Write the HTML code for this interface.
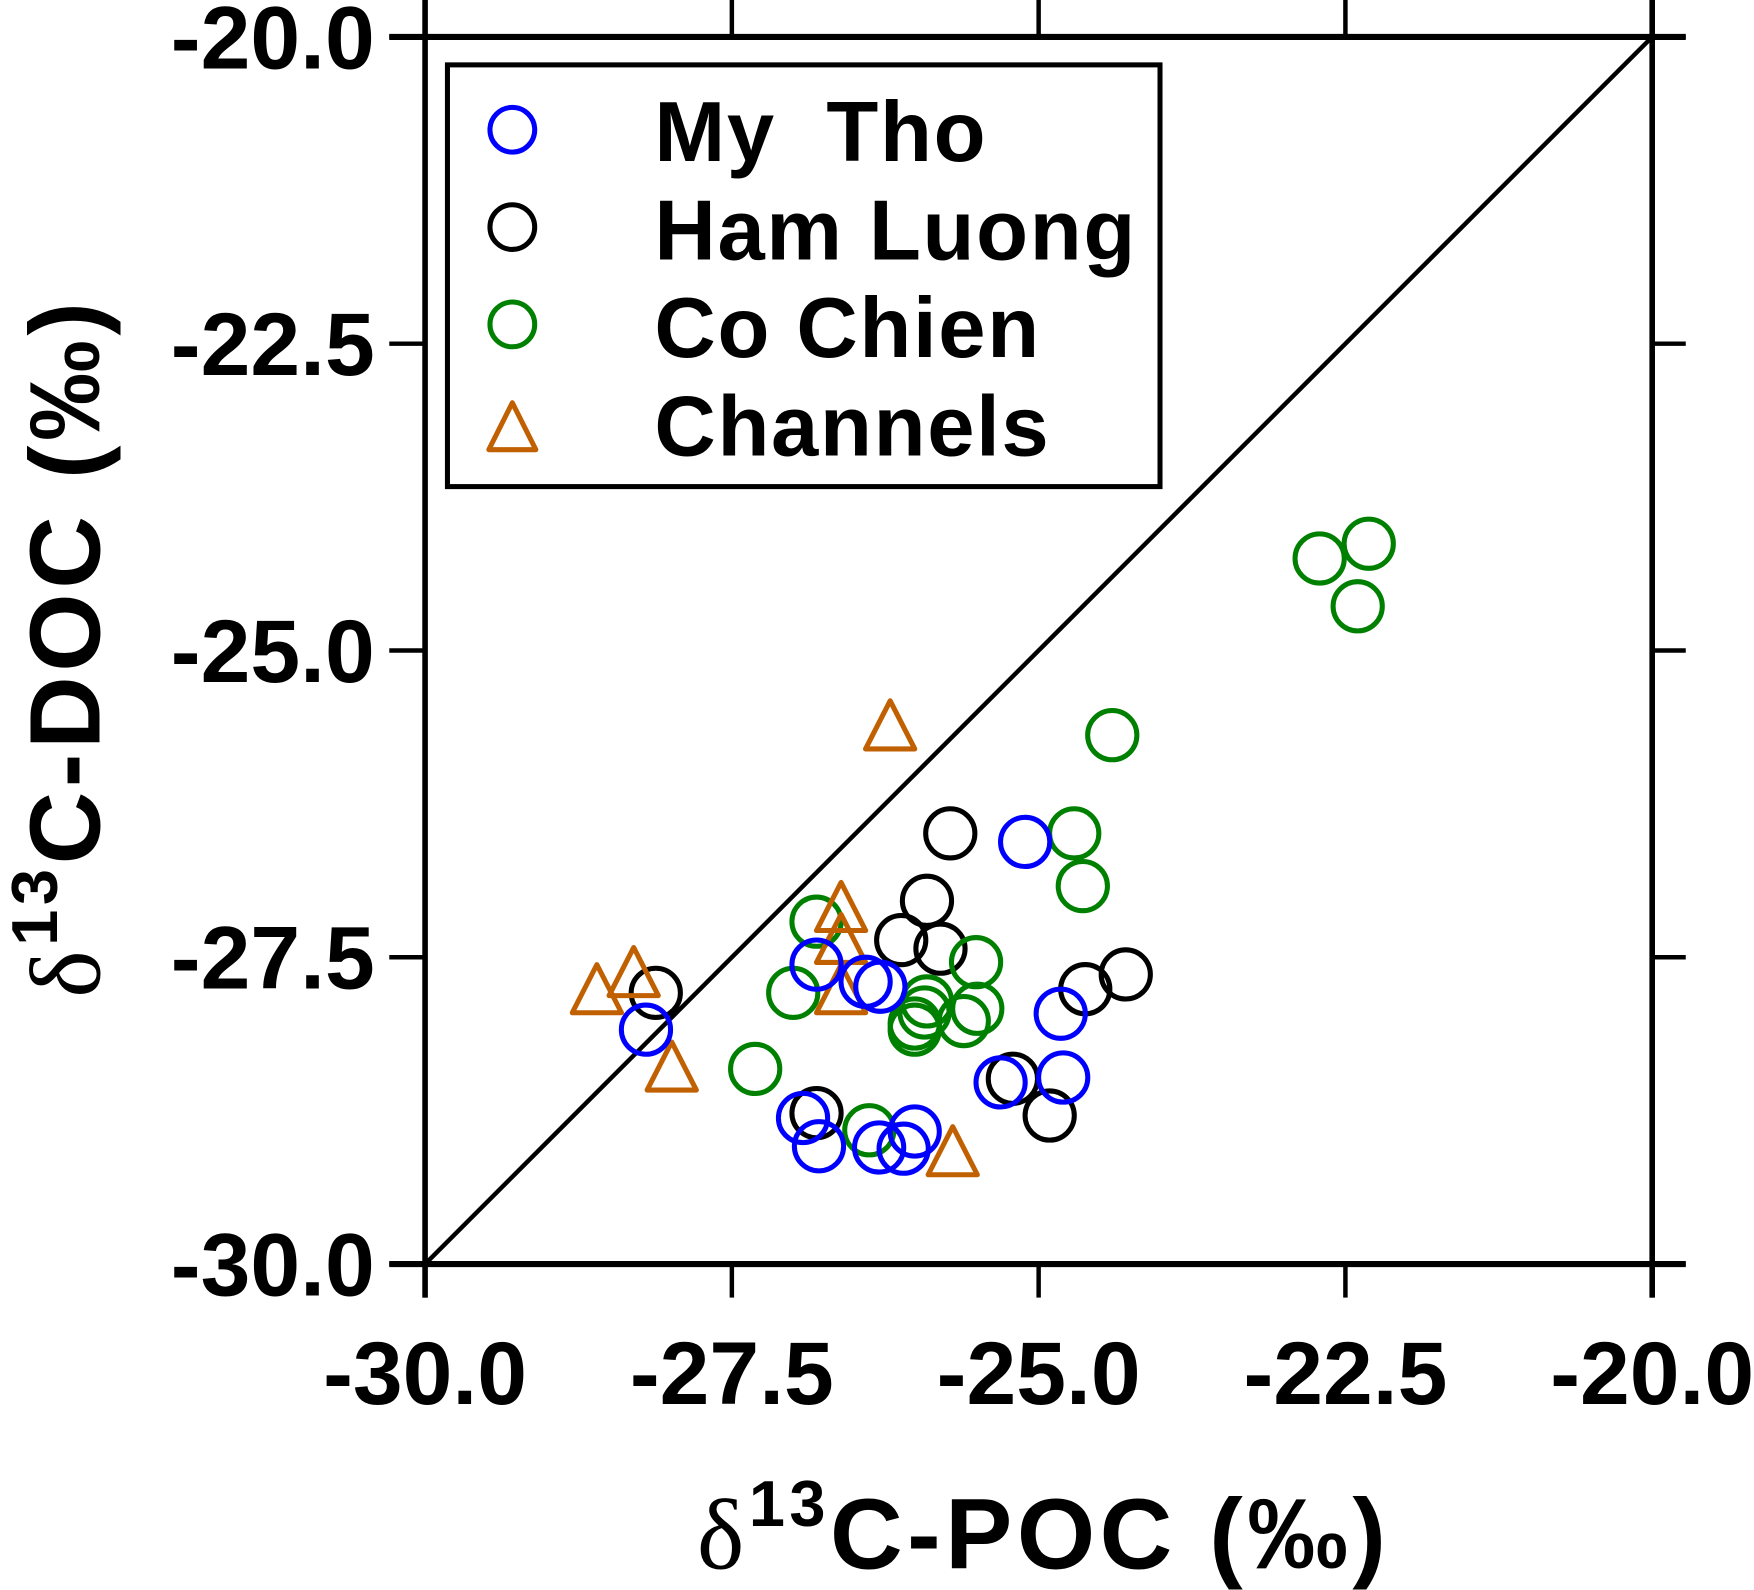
<!DOCTYPE html>
<html><head><meta charset="utf-8"><style>
html,body{margin:0;padding:0;background:#fff}
svg{display:block}
text{font-family:"Liberation Sans",Arial,sans-serif;font-weight:bold;fill:#000}
</style></head><body>
<svg id="chart" width="1754" height="1590" viewBox="0 0 1568 1421.4" xmlns="http://www.w3.org/2000/svg">
<g id="frame" stroke="#000" stroke-width="4" fill="none"></g>
<line id="diag" stroke="#000" stroke-width="4"/>
<g id="ticks"></g>
<g id="marks"></g>
<g>
<rect x="400" y="58" width="637" height="377" fill="#fff" stroke="#000" stroke-width="4.5"/>
<circle cx="458" cy="116" r="20" fill="none" stroke="#0000ff" stroke-width="4.5"/>
<circle cx="458" cy="203" r="20" fill="none" stroke="#000" stroke-width="4.5"/>
<circle cx="458" cy="290" r="20" fill="none" stroke="#008000" stroke-width="4.5"/>
<polygon points="458,360 437,402 479,402" fill="none" stroke="#c06000" stroke-width="4.5" stroke-linejoin="round"/>
<text x="585" y="144" font-size="76" letter-spacing="1.5" xml:space="preserve">My  Tho</text>
<text x="585" y="232" font-size="76" letter-spacing="1.5">Ham Luong</text>
<text x="585" y="319" font-size="76" letter-spacing="1.5">Co Chien</text>
<text x="585" y="407" font-size="76" letter-spacing="1.5">Channels</text>
</g>
<text x="623" y="1402" font-size="90" textLength="616"><tspan font-weight="normal" font-family="Liberation Serif,serif">δ</tspan><tspan font-size="58" dy="-38">13</tspan><tspan dy="38">C-POC (‰)</tspan></text>
<text transform="translate(89,892) rotate(-90)" font-size="90" textLength="622"><tspan font-weight="normal" font-family="Liberation Serif,serif">δ</tspan><tspan font-size="58" dy="-38">13</tspan><tspan dy="38">C-DOC (‰)</tspan></text>
</svg>
<script>
const xTicks=[-30,-27.5,-25,-22.5,-20];
const yTicks=[-30,-27.5,-25,-22.5,-20];
const tickLabels=["-30.0","-27.5","-25.0","-22.5","-20.0"];
const myThoX=[-28.20,-26.81,-26.41,-26.29,-25.11,-24.82,-24.80,-25.31,-26.92,-26.79,-26.30,-26.10,-26.01];
const myThoY=[-28.09,-27.56,-27.70,-27.74,-26.56,-27.96,-28.48,-28.52,-28.81,-29.04,-29.05,-29.06,-28.92];
const hamLuongX=[-28.12,-25.72,-25.91,-26.12,-25.80,-24.29,-24.62,-25.21,-24.91,-26.81];
const hamLuongY=[-27.79,-26.49,-27.04,-27.36,-27.43,-27.64,-27.76,-28.49,-28.79,-28.77];
const coChienX=[-22.71,-22.31,-22.40,-24.40,-24.71,-24.64,-26.81,-25.51,-27.00,-25.91,-25.93,-25.50,-25.61,-26.01,-26.01,-27.31,-26.38];
const coChienY=[-24.25,-24.13,-24.64,-25.69,-26.49,-26.92,-27.21,-27.54,-27.79,-27.86,-27.95,-27.92,-28.02,-28.04,-28.09,-28.41,-28.91];
const channelsX=[-26.21,-26.61,-26.61,-26.61,-28.60,-28.30,-27.99,-25.70];
const channelsY=[-25.62,-27.10,-27.36,-27.77,-27.77,-27.63,-28.40,-29.09];

const X0=380,X1=1477,Y0=1130,Y1=33;
const sx=v=>X0+(v+30)/10*(X1-X0);
const sy=v=>Y0-(v+30)/10*(Y0-Y1);
const NS="http://www.w3.org/2000/svg";
function mk(tag,attrs,parent){const e=document.createElementNS(NS,tag);for(const k in attrs)e.setAttribute(k,attrs[k]);parent.appendChild(e);return e;}
const frame=document.getElementById('frame');
let l;
l=mk('line',{x1:348,y1:Y1,x2:1507,y2:Y1,'stroke-width':5.5},frame);


l=mk('line',{x1:348,y1:Y0,x2:1507,y2:Y0,'stroke-width':5.5},frame);


l=mk('line',{x1:X0,y1:0,x2:X0,y2:1160,'stroke-width':5},frame);


l=mk('line',{x1:X1,y1:0,x2:X1,y2:1160,'stroke-width':5},frame);


const tg=document.getElementById('ticks');
xTicks.forEach((v,i)=>{
  const x=sx(v);
  let t=mk('line',{x1:x,y1:Y0,x2:x,y2:1160},frame);
  
  
  t=mk('line',{x1:x,y1:0,x2:x,y2:Y1},frame);
  
  
  const tx=mk('text',{x:x,y:1255,'font-size':80,'text-anchor':'middle'},tg);
  tx.textContent=tickLabels[i];
  
  
});
yTicks.forEach((v,i)=>{
  const y=sy(v);
  let t=mk('line',{x1:348,y1:y,x2:X0,y2:y},frame);
  
  
  t=mk('line',{x1:X1,y1:y,x2:1507,y2:y},frame);
  
  
  const tx=mk('text',{x:335,y:y+28,'font-size':80,'text-anchor':'end'},tg);
  tx.textContent=tickLabels[i];
  
  
});
const d=document.getElementById('diag');
d.setAttribute('x1',sx(-30));d.setAttribute('y1',sy(-30));d.setAttribute('x2',sx(-20));d.setAttribute('y2',sy(-20));
const mg=document.getElementById('marks');
function circles(xs,ys,color,name){
  xs.forEach((v,i)=>{
    const c=mk('circle',{cx:sx(v),cy:sy(ys[i]),r:22,fill:'none',stroke:color,'stroke-width':4.5},mg);
    
    
  });
}
circles(hamLuongX,hamLuongY,'#000','point-ham-luong');
circles(coChienX,coChienY,'#008000','point-co-chien');
channelsX.forEach((v,i)=>{
  const x=sx(v),y=sy(channelsY[i]);
  const p=mk('polygon',{points:`${x},${y-23} ${x-22},${y+20} ${x+22},${y+20}`,fill:'none',stroke:'#c06000','stroke-width':4.5,'stroke-linejoin':'round'},mg);
  
  
});
circles(myThoX,myThoY,'#0000ff','point-my-tho');
</script>
</body></html>
